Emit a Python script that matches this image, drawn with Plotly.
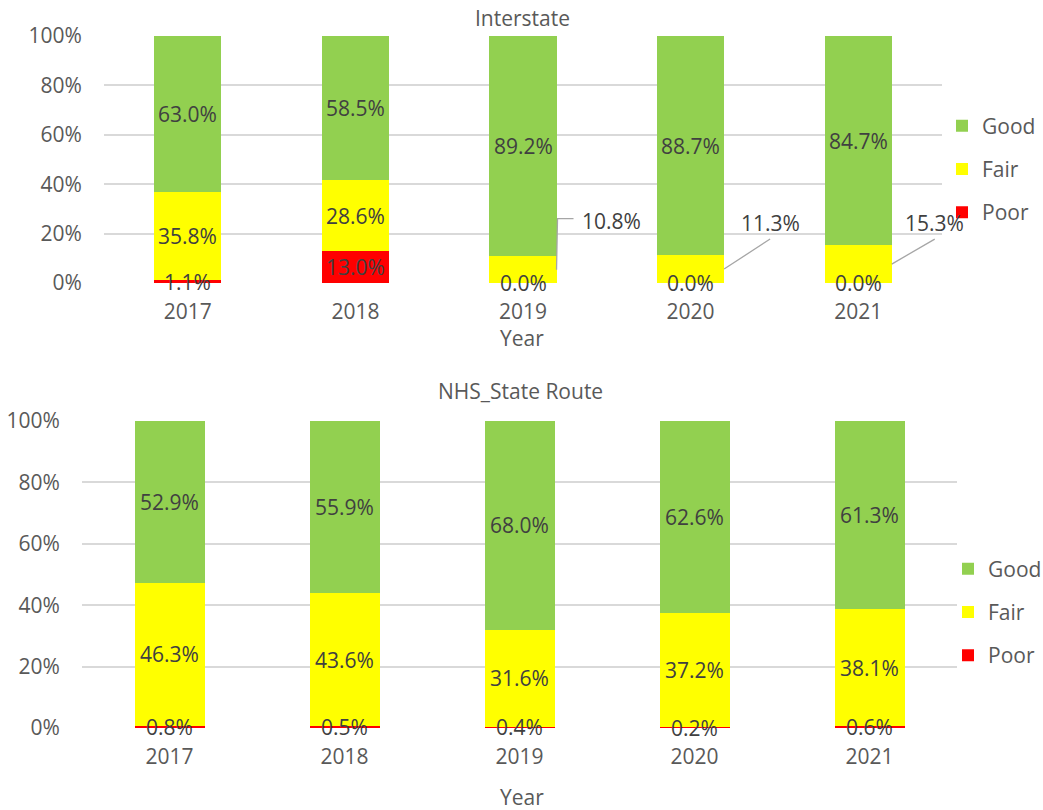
import plotly.graph_objects as go

years = [2017, 2018, 2019, 2020, 2021]
conditions = ["Poor", "Fair", "Good"]
colors = {"Good": "#92D050", "Fair": "#FFFF00", "Poor": "#FF0000"}
legend_rank = {"Good": 1, "Fair": 2, "Poor": 3}

interstate_good = [63.0, 58.5, 89.2, 88.7, 84.7]
interstate_fair = [35.8, 28.6, 10.8, 11.3, 15.3]
interstate_poor = [1.1, 13.0, 0.0, 0.0, 0.0]

nhs_good = [52.9, 55.9, 68.0, 62.6, 61.3]
nhs_fair = [46.3, 43.6, 31.6, 37.2, 38.1]
nhs_poor = [0.8, 0.5, 0.4, 0.2, 0.6]

y_ticks = [0, 20, 40, 60, 80, 100]

FONT = "Open Sans"
TICK_COLOR = "#595959"
LABEL_COLOR = "#404040"
LEADER_COLOR = "#A6A6A6"
W, H = 1043, 810

fig = go.Figure()

# callout offsets (pixels) for the small Fair segments in the Interstate panel
callouts = {2019: "elbow", 2020: (46, -30), 2021: (43, -25)}

panels = [
    {"name": "Interstate", "x": "x", "y": "y", "legend": "legend",
     "data": {"Poor": interstate_poor, "Fair": interstate_fair, "Good": interstate_good},
     "xdom": (104, 942), "ydom": (283, 36), "callouts": callouts},
    {"name": "NHS_State Route", "x": "x2", "y": "y2", "legend": "legend2",
     "data": {"Poor": nhs_poor, "Fair": nhs_fair, "Good": nhs_good},
     "xdom": (82, 957), "ydom": (728, 421), "callouts": {}},
]

annotations = []
shapes = []
for p in panels:
    for cond in conditions:
        fig.add_trace(go.Bar(
            x=years, y=p["data"][cond], name=cond,
            marker=dict(color=colors[cond], line=dict(width=0)),
            width=0.4, xaxis=p["x"], yaxis=p["y"], legend=p["legend"],
            legendgroup=cond, legendrank=legend_rank[cond], hoverinfo="skip",
        ))
    # data labels
    for j, yr in enumerate(years):
        base = 0.0
        for cond in conditions:
            v = p["data"][cond][j]
            mid = base + v / 2
            base += v
            ann = dict(x=yr, y=mid, xref=p["x"], yref=p["y"], text=f"{v:.1f}%",
                       font=dict(family=FONT, size=21, color=LABEL_COLOR), showarrow=False)
            if cond == "Fair" and yr in p["callouts"]:
                c = p["callouts"][yr]
                if c == "elbow":
                    ann.update(x=yr + 0.2, xshift=55, yshift=49)
                    shapes.append(dict(
                        type="path", xref=p["x"], yref=p["y"],
                        xsizemode="pixel", ysizemode="pixel", xanchor=yr + 0.2, yanchor=mid,
                        path="M 0 0 L 1 51 L 17 51",
                        line=dict(color=LEADER_COLOR, width=1.3),
                    ))
                else:
                    ann.update(x=yr + 0.2, showarrow=True, arrowhead=0, arrowwidth=1.3,
                               arrowcolor=LEADER_COLOR, ax=c[0], ay=c[1],
                               xanchor="center", yanchor="bottom", standoff=0)
            annotations.append(ann)

layout = dict(
    width=W, height=H,
    paper_bgcolor="white", plot_bgcolor="white",
    margin=dict(l=0, r=0, t=0, b=0, autoexpand=False),
    barmode="stack",
    showlegend=True,
    font=dict(family=FONT, color=TICK_COLOR),
)

for k, p in enumerate(panels):
    sfx = "" if k == 0 else "2"
    x0, x1 = p["xdom"]
    y0, y1 = p["ydom"]
    layout["xaxis" + sfx] = dict(
        domain=[x0 / W, x1 / W], range=[2016.5, 2021.5], tickvals=years,
        ticktext=[str(y) for y in years], anchor="y" + sfx,
        showgrid=False, zeroline=False, showline=False,
        ticks="outside", ticklen=10, tickcolor="rgba(0,0,0,0)",
        tickfont=dict(family=FONT, size=21, color=TICK_COLOR), automargin=False,
    )
    layout["yaxis" + sfx] = dict(
        domain=[1 - y0 / H, 1 - y1 / H], range=[0, 100], tickvals=y_ticks,
        ticktext=[f"{t}%" for t in y_ticks], anchor="x" + sfx,
        showgrid=True, gridcolor="#D9D9D9", gridwidth=1.5,
        zeroline=False, showline=False,
        ticks="outside", ticklen=17, tickcolor="rgba(0,0,0,0)",
        tickfont=dict(family=FONT, size=21, color=TICK_COLOR), automargin=False,
    )

for key, lx, ly in [("legend", 942, 169), ("legend2", 948, 612)]:
    layout[key] = dict(
        x=lx / W, y=1 - ly / H, xanchor="left", yanchor="middle",
        traceorder="grouped", tracegroupgap=13,
        font=dict(family=FONT, size=21, color=TICK_COLOR), itemwidth=30,
        bgcolor="rgba(0,0,0,0)",
    )

# titles and axis names
for text, xc, yc in [
    ("Interstate", 522, 18),
    ("Year", 522, 338),
    ("NHS_State Route", 520, 391),
    ("Year", 522, 797),
]:
    annotations.append(dict(
        text=text, x=xc / W, y=1 - yc / H, xref="paper", yref="paper",
        showarrow=False, xanchor="center", yanchor="middle",
        font=dict(family=FONT, size=21, color=TICK_COLOR),
    ))

layout["annotations"] = annotations
layout["shapes"] = shapes
fig.update_layout(**layout)
fig.write_html("out.html", config={"displayModeBar": False},
               post_script="document.body.style.margin='0';")
